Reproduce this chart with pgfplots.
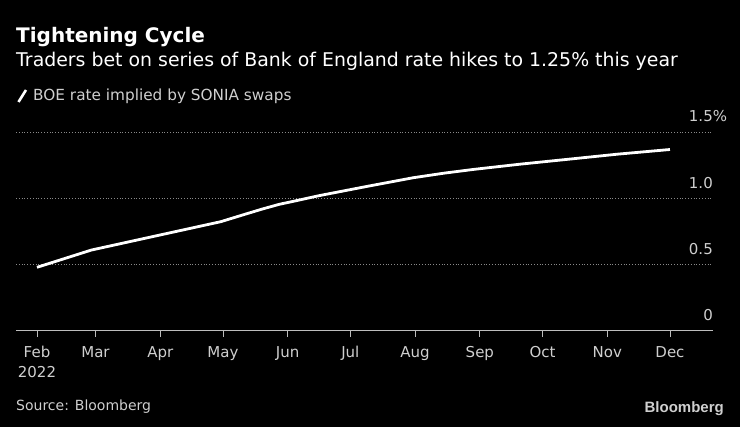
\documentclass[border=0pt]{standalone}
\usepackage{fontspec}
\setmainfont{DejaVu Sans}
\newfontfamily\logofont{Liberation Sans}
\usepackage{pgfplots}
\pgfplotsset{compat=1.18}
\definecolor{txt}{HTML}{CFCFCF}
\definecolor{axl}{HTML}{BDBDBD}
\definecolor{grd}{HTML}{8A8A8A}
\begin{document}
\begin{tikzpicture}
\fill[black] (0pt,0pt) rectangle (740pt,427pt);
% titles
\node[anchor=base west,white,font=\fontsize{20}{23}\selectfont\bfseries,inner sep=0] at (16pt,384pt) {Tightening Cycle};
\node[anchor=base west,white,font=\fontsize{18.9}{22}\selectfont,inner sep=0] at (16pt,360pt) {Traders bet on series of Bank of England rate hikes to 1.25\% this year};
% legend
\draw[white,line width=2.6pt] (18.5pt,325pt) -- (26pt,337pt);
\node[anchor=base west,txt,font=\fontsize{15.3}{18}\selectfont,inner sep=0] at (33pt,326pt) {BOE rate implied by SONIA swaps};
\begin{axis}[
  at={(37pt,96pt)}, anchor=origin,
  scale only axis, width=697pt, height=199pt,
  xmin=-10.05, xmax=323.6, ymin=0, ymax=1.5,
  axis y line=none, axis x line*=bottom,
  x axis line style={axl, line width=1pt, -},
  xtick={0,28,59,89,120,150,181,212,242,273,303},
  xticklabels={Feb\\2022,Mar,Apr,May,Jun,Jul,Aug,Sep,Oct,Nov,Dec},
  xtick style={axl, line width=0.8pt},
  major tick length=6pt,
  tick align=outside,
  xticklabel style={txt, font=\fontsize{15}{20}\selectfont, align=center, anchor=north, yshift=-6pt},
  clip=false,
]
% dotted gridlines
\addplot[grd, dotted, line width=0.8pt, forget plot] coordinates {(-10.05,0.5) (323.6,0.5)};
\addplot[grd, dotted, line width=0.8pt, forget plot] coordinates {(-10.05,1.0) (323.6,1.0)};
\addplot[grd, dotted, line width=0.8pt, forget plot] coordinates {(-10.05,1.5) (323.6,1.5)};
% y labels above gridlines, right aligned
\node[anchor=base east,txt,font=\fontsize{15}{18}\selectfont,inner sep=0pt] at (axis cs:323.6,0) [yshift=10pt] {0};
\node[anchor=base east,txt,font=\fontsize{15}{18}\selectfont,inner sep=0pt] at (axis cs:323.6,0.5) [yshift=10pt] {0.5};
\node[anchor=base east,txt,font=\fontsize{15}{18}\selectfont,inner sep=0pt] at (axis cs:323.6,1.0) [yshift=10pt] {1.0};
\node[anchor=base east,txt,font=\fontsize{15}{18}\selectfont,inner sep=0pt] at (axis cs:323.6,1.5) [yshift=10pt] {1.5\rlap{\%}};
% BOE rate implied by SONIA swaps (days from 1 Feb 2022)
\addplot[white, line width=2.8pt, line join=round] coordinates {
  (0,0.480) (26,0.610) (59,0.724) (88,0.824) (100,0.882) (108,0.920)
  (116,0.955) (122,0.975) (135,1.020) (158,1.090) (180,1.155) (195,1.190)
  (209,1.218) (231,1.257) (254,1.294) (278,1.333) (303,1.368)
};
\end{axis}
% footer
\node[anchor=base west,txt,font=\fontsize{14}{16}\selectfont,inner sep=0] at (16pt,16pt) {Source: Bloomberg};
\node[anchor=base east,txt,font=\logofont\fontsize{15}{17}\selectfont\bfseries,inner sep=0] at (724pt,14pt) {Bloomberg};
\end{tikzpicture}
\end{document}
